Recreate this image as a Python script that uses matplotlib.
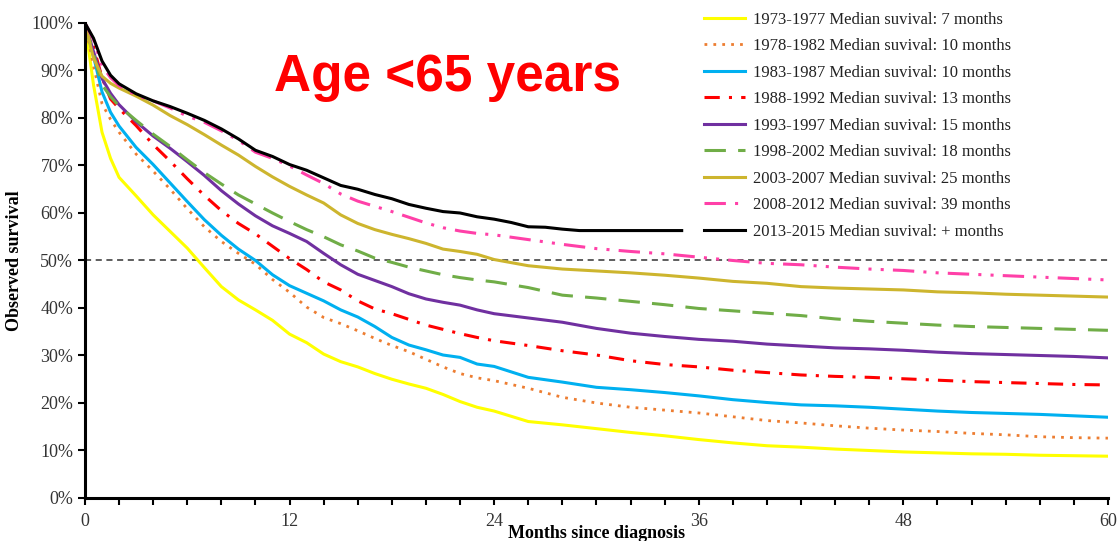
import numpy as np
import matplotlib.pyplot as plt
from matplotlib.ticker import MultipleLocator

# months since diagnosis (common grid for 1973-2012 cohorts)
months = [0, 0.5, 1, 1.5, 2, 3, 4, 5, 6, 7, 8, 9, 10, 11, 12, 13, 14, 15, 16, 17, 18,
          19, 20, 21, 22, 23, 24, 26, 28, 30, 32, 34, 36, 38, 40, 42, 44, 46, 48, 50,
          52, 54, 56, 58, 60]

s_1973 = [100, 87, 77, 71.5, 67.5, 63.6, 59.6, 56.1, 52.6, 48.5, 44.5, 41.7, 39.6, 37.4, 34.5,
          32.7, 30.3, 28.7, 27.6, 26.2, 25, 24, 23.1, 21.8, 20.3, 19.1, 18.3, 16.1, 15.4,
          14.6, 13.8, 13.1, 12.3, 11.6, 11, 10.7, 10.3, 10, 9.7, 9.5, 9.3, 9.2, 9, 8.9, 8.8]
s_1978 = [100, 91, 83, 79.7, 77, 72.4, 68.8, 65, 60.9, 57.1, 54, 51.5, 49.2, 46, 43.3,
          40.2, 38, 36.7, 35.2, 33.6, 32.1, 30.8, 29.2, 27.6, 26.2, 25.3, 24.7, 23.1, 21.2,
          20, 19.1, 18.5, 17.9, 17.1, 16.3, 15.8, 15.2, 14.7, 14.3, 14, 13.6, 13.3, 12.9, 12.7, 12.6]
s_1983 = [100, 93, 85.5, 81.2, 78.3, 73.8, 70.2, 66.3, 62.4, 58.6, 55.3, 52.4, 50, 47, 44.7,
          43.1, 41.5, 39.6, 38.1, 36.1, 33.8, 32.2, 31.2, 30.1, 29.6, 28.2, 27.7, 25.4, 24.4,
          23.3, 22.8, 22.2, 21.5, 20.7, 20.1, 19.6, 19.4, 19.1, 18.7, 18.3, 18, 17.8, 17.6, 17.3, 17]
s_1988 = [100, 95, 88.5, 84, 82, 78.4, 74.4, 70.9, 67.2, 63.7, 60.5, 57.8, 55.6, 53, 50.4,
          48.1, 45.5, 43.8, 41.5, 39.8, 38.8, 37.6, 36.4, 35.5, 34.6, 33.8, 33.1, 32.1, 31,
          30.1, 28.9, 28.1, 27.6, 26.9, 26.4, 25.9, 25.6, 25.4, 25.1, 24.8, 24.5, 24.3, 24.1, 23.9, 23.8]
s_1993 = [100, 94, 88.3, 85.2, 82.8, 79.2, 76.2, 73.6, 70.8, 67.9, 64.7, 61.9, 59.4, 57.3, 55.7,
          54, 51.5, 49.1, 47.1, 45.8, 44.5, 43, 41.9, 41.2, 40.6, 39.6, 38.8, 37.9, 37,
          35.7, 34.7, 34, 33.4, 33, 32.4, 32, 31.6, 31.4, 31.1, 30.7, 30.4, 30.2, 30, 29.8, 29.5]
s_1998 = [100, 93.5, 87, 84.5, 82.5, 79.5, 76.6, 74, 71.2, 68.5, 66.1, 63.8, 61.9, 60, 58.2,
          56.5, 55, 53.3, 52, 50.5, 49.6, 48.6, 47.8, 47, 46.4, 45.9, 45.5, 44.3, 42.7,
          42.1, 41.4, 40.7, 39.9, 39.4, 38.9, 38.4, 37.7, 37.2, 36.8, 36.4, 36.1, 35.9, 35.7, 35.5, 35.3]
s_2003 = [100, 92.6, 88.8, 87.3, 86.3, 84.6, 82.7, 80.5, 78.6, 76.5, 74.3, 72.2, 69.8, 67.6, 65.6,
          63.8, 62.1, 59.6, 57.8, 56.5, 55.5, 54.6, 53.6, 52.4, 51.9, 51.3, 50.2, 48.9, 48.2,
          47.8, 47.4, 46.9, 46.3, 45.6, 45.2, 44.5, 44.2, 44, 43.8, 43.4, 43.2, 42.9, 42.7, 42.5, 42.3]
s_2008 = [100, 96.5, 91, 88.5, 86.8, 84.8, 83.6, 82.1, 80.4, 79.1, 77.3, 75.3, 72.8, 71.5, 69.9,
          68, 66.2, 64, 62.5, 61.4, 60.3, 59.1, 57.9, 56.9, 56.2, 55.7, 55.4, 54.4, 53.4,
          52.5, 51.9, 51.4, 50.7, 50, 49.4, 49.1, 48.6, 48.2, 47.9, 47.4, 47.1, 46.8, 46.5, 46.2, 45.9]

# 2013-2015 cohort, follow-up stops at ~35 months
months_2013 = [0, 0.5, 1, 1.5, 2, 3, 4, 5, 6, 7, 8, 9, 10, 11, 12, 13, 14, 15, 16, 17, 18,
               19, 20, 21, 22, 23, 24, 25, 26, 27, 28, 29, 30, 32, 34, 35]
s_2013 = [100, 96.8, 92, 89, 87.2, 85.1, 83.6, 82.4, 81, 79.5, 77.7, 75.6, 73.2, 71.9, 70.2,
          69, 67.4, 65.8, 65, 63.9, 63, 61.8, 61, 60.3, 60, 59.2, 58.7, 58, 57.1, 57, 56.6,
          56.3, 56.3, 56.3, 56.3, 56.3]

labels = ["1973-1977 Median suvival: 7 months",
          "1978-1982 Median suvival: 10 months",
          "1983-1987 Median suvival: 10 months",
          "1988-1992 Median suvival: 13 months",
          "1993-1997 Median suvival: 15 months",
          "1998-2002 Median suvival: 18 months",
          "2003-2007 Median suvival: 25 months",
          "2008-2012 Median suvival: 39 months",
          "2013-2015 Median suvival: + months"]

plt.rcParams['font.family'] = 'Liberation Serif'

fig = plt.figure(figsize=(11.18, 5.41), dpi=100)
ax = fig.add_axes([0.076, 0.0795, 0.915, 0.878])

ax.axhline(50, color='#333333', lw=1.1, ls=(0, (4, 3)), zorder=1)

ax.plot(months, s_1973, color='#FFFF00', lw=2.2, label=labels[0])
ax.plot(months, s_1978, color='#ED7D31', lw=2.0, ls=(0, (1, 2.2)), label=labels[1])
ax.plot(months, s_1983, color='#00B0F0', lw=2.2, label=labels[2])
ax.plot(months, s_1988, color='#FF0000', lw=2.2, ls=(0, (5, 3, 1, 3)), label=labels[3])
ax.plot(months, s_1993, color='#7030A0', lw=2.2, label=labels[4])
ax.plot(months, s_1998, color='#70AD47', lw=2.2, ls=(0, (7, 4)), label=labels[5])
ax.plot(months, s_2003, color='#CDB52E', lw=2.2, label=labels[6])
ax.plot(months, s_2008, color='#FF40A8', lw=2.2, ls=(0, (7, 3, 1, 3, 1, 3)), label=labels[7])
ax.plot(months_2013, s_2013, color='black', lw=2.2, label=labels[8])

ax.set_xlim(0, 60)
ax.set_ylim(0, 100)
ax.xaxis.set_major_locator(MultipleLocator(12))
ax.xaxis.set_minor_locator(MultipleLocator(2))
ax.yaxis.set_major_locator(MultipleLocator(10))
ax.set_yticklabels([f"{int(v)}%" for v in ax.get_yticks()])

for s in ['top', 'right']:
    ax.spines[s].set_visible(False)
for s in ['left', 'bottom']:
    ax.spines[s].set_linewidth(2.2)
ax.tick_params(axis='both', which='both', direction='out', width=1.5, labelsize=13,
               colors='black', labelcolor='#333333')
ax.tick_params(axis='both', which='major', length=5)
ax.tick_params(axis='x', which='minor', length=5)
ax.tick_params(axis='x', pad=6)

ax.set_xlabel("Months since diagnosis", fontsize=13, fontweight='bold', labelpad=-4)
ax.set_ylabel("Observed survival", fontsize=13, fontweight='bold', labelpad=6)

ax.text(0.354, 0.885, "Age <65 years", transform=ax.transAxes, color='#FF0000',
        fontsize=37, fontweight='bold', family='Liberation Sans', ha='center', va='center')

leg = ax.legend(loc='upper left', bbox_to_anchor=(0.616, 1.006), bbox_transform=fig.transFigure,
                frameon=False, fontsize=12, handlelength=2.5, handletextpad=0.45,
                labelspacing=0.63, labelcolor='#222222')

fig.savefig('out.png', dpi=100)
